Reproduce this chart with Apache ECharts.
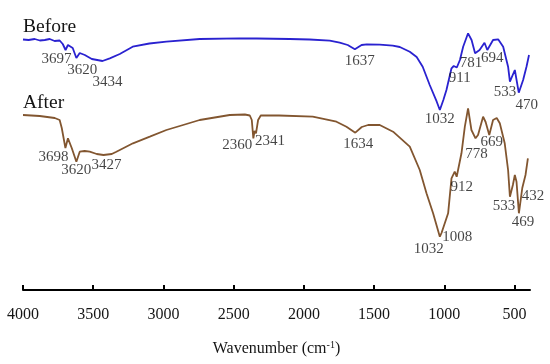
<!DOCTYPE html>
<html><head><meta charset="utf-8">
<script src="https://cdn.jsdelivr.net/npm/echarts@6/dist/echarts.min.js"></script>
<style>html,body{margin:0;padding:0;background:#fff}#c{width:550px;height:364px}</style>
</head><body><div id="c"></div>
<script>
// ---- data ----
const beforeWavenumber = [4000,3960,3917,3880,3845,3810,3775,3739,3717,3697,3680,3667,3646,3620,3596,3560,3510,3434,3382,3311,3219,3100,2979,2742,2457,2364,2350,2336,2101,1959,1816,1745,1688,1637,1589,1552,1460,1367,1317,1246,1197,1154,1104,1054,1032,1007,985,949,933,911,889,866,831,806,781,749,714,694,653,617,581,546,533,498,486,470,439,415,397];
const beforeSignal =     [260.5,260,261,259.5,260,261,259,259.5,256,250,255,254,252,242,247,245,241,239,241.7,246,253.3,256.5,258.3,261,261.7,261.5,260,261.5,261,260.5,259.3,257.3,255,250.7,255,255.7,255.3,254.3,253,248.3,243,233.3,215,198.3,190,200,210,231.7,234,232.5,240,253.3,266.7,260,246.7,250,257.3,250,260,260.7,253.3,233.3,218.3,230,228.3,207.3,220,233.3,245];
const afterWavenumber = [4000,3881,3774,3739,3724,3698,3680,3653,3620,3596,3561,3525,3475,3427,3368,3335,3217,3097,2979,2860,2742,2528,2420,2385,2371,2360,2351,2341,2326,2307,2177,1937,1768,1697,1634,1588,1543,1460,1365,1246,1175,1127,1080,1032,1020,1008,973,949,926,912,878,854,831,807,778,760,724,706,680,653,627,605,570,546,533,512,498,486,469,445,432,422,405];
const afterSignal =     [185,184,182,180,172,152,161.7,152,138.3,148.3,149,148.3,146,145,146,148.3,156.7,163.3,170,175,180,185,185.5,184.5,180,161.7,169,166.7,180,184.5,184.5,183.3,178.3,173.3,167.3,173,175,175,168.3,153.3,130,106.7,86.7,63.3,67,65,86.7,121.7,128.3,123.3,146.7,173.3,191.7,170,161.7,165,183.3,178,165,180,182,176.7,156.7,130,103.3,115,125,118.3,86.7,112,114,125,141.7];
const beforePeaks = [3697,3620,3434,1637,1032,911,781,694,533,470];
const afterPeaks  = [3698,3620,3427,2360,2341,1634,1032,1008,912,778,669,533,469,432];
const xTickValues = [4000,3500,3000,2500,2000,1500,1000,500];
const seriesNames = ['Before','After'];

// ---- layout / style ----
const beforeLabelOffset = [[-9,9],[6,12],[5,21],[5,12],[0,9],[3,11],[-4,10],[5,8],[-5,10],[8,12]];
const afterLabelOffset  = [[-12,9],[0,8],[3,10],[-16,7],[14,8],[3,11],[-11,12],[14,2],[5,10],[1,16],[1,13],[-6,9],[4,9],[9,10]];
const serif = '"Liberation Serif","Times New Roman",serif';
const blue = '#2a22d0', brown = '#825630', ink = '#151515';

function zip(xs, ys){ return xs.map((x,i)=>[x, ys[i]]); }
function curveAt(xs, ys, w){
  for (let i=0;i<xs.length-1;i++){
    const a=xs[i], b=xs[i+1];
    if (w<=a && w>=b){ const t=(a-w)/(a-b); return ys[i]+(ys[i+1]-ys[i])*t; }
  }
  return ys[ys.length-1];
}
function peakSeries(peaks, xs, ys, offs){
  return {
    type:'scatter', symbolSize:1, silent:true, z:5,
    itemStyle:{color:'transparent'},
    label:{show:true, position:'inside', formatter:p=>String(p.value[0]),
           fontFamily:serif, fontSize:15, color:ink},
    data: peaks.map((w,i)=>({value:[w, curveAt(xs,ys,w)], label:{offset:offs[i]}}))
  };
}

const chart = echarts.init(document.getElementById('c'), null, {renderer:'canvas'});
chart.setOption({
  animation:false,
  backgroundColor:'#fff',
  grid:{left:23, right:20, top:20, bottom:74},
  xAxis:{
    type:'value', inverse:true, min:390, max:4000,
    axisLine:{show:true, onZero:false, lineStyle:{color:'#000', width:2}},
    axisTick:{show:true, inside:true, length:5, customValues:xTickValues, lineStyle:{color:'#000', width:2}},
    axisLabel:{customValues:xTickValues, formatter:v=>String(v), fontFamily:serif, fontSize:16, color:ink, margin:17},
    splitLine:{show:false},
    name:'Wavenumber (cm{sup|-1})', nameLocation:'middle', nameGap:50,
    nameTextStyle:{fontFamily:serif, fontSize:16, color:ink,
      rich:{sup:{fontFamily:serif, fontSize:10, color:ink, verticalAlign:'top', padding:[0,0,8,0]}}}
  },
  yAxis:{type:'value', min:10, max:280, show:false},
  graphic:[
    {type:'text', x:23, y:26.7, style:{text:seriesNames[0], fontFamily:serif, fontSize:19.5, fill:ink, align:'left', verticalAlign:'middle'}},
    {type:'text', x:23, y:103, style:{text:seriesNames[1], fontFamily:serif, fontSize:19.5, fill:ink, align:'left', verticalAlign:'middle'}}
  ],
  series:[
    {name:seriesNames[0], type:'line', data:zip(beforeWavenumber,beforeSignal), symbol:'none', lineStyle:{color:blue, width:1.8}, z:3},
    {name:seriesNames[1], type:'line', data:zip(afterWavenumber,afterSignal), symbol:'none', lineStyle:{color:brown, width:1.8}, z:3},
    peakSeries(beforePeaks, beforeWavenumber, beforeSignal, beforeLabelOffset),
    peakSeries(afterPeaks, afterWavenumber, afterSignal, afterLabelOffset)
  ]
});
</script></body></html>
